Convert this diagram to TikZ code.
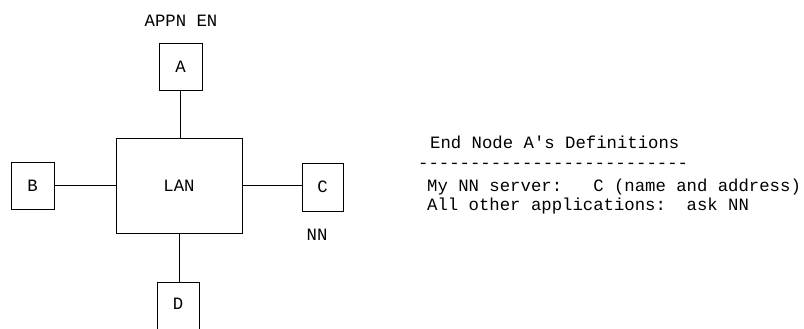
\documentclass[tikz,border=0pt]{standalone}
\usepackage{fontspec}
\setmonofont{Liberation Mono}
\begin{document}
\begin{tikzpicture}[x=1pt,y=-1pt,
  every node/.style={font=\ttfamily\fontsize{17.3}{20}\selectfont, inner sep=0pt},
  box/.style={draw, line width=0.8pt, minimum width=#1},
  conn/.style={line width=0.8pt},
  txt/.style={anchor=base west}]
\useasboundingbox (0,0) rectangle (804,329);
\clip (0,0) rectangle (804,329);
\node[box=43pt, minimum height=47pt] (A) at (180.5,66.5) {A};
\node (appn) at (181,21) {APPN EN};
\node[box=126pt, minimum height=95pt] (LAN) at (179,185.5) {LAN};
\node[box=43pt, minimum height=47pt] (B) at (32.5,185.5) {B};
\node[box=41pt, minimum height=48pt] (C) at (322.5,187) {C};
\node (nn) at (317,235) {NN};
\node[box=42pt, minimum height=54pt] (D) at (178,309) {};
\node (Dl) at (178,304) {D};
\draw[conn] (A.south) -- (A.south |- LAN.north);
\draw[conn] (B.east |- LAN.west) -- (LAN.west);
\draw[conn] (LAN.east) -- (C.west |- LAN.east);
\draw[conn] (LAN.south) -- (LAN.south |- D.north);
\node[txt] (t1) at (430,149) {End Node A's Definitions};
\node[txt] (t2) at (418,168) {-{}-{}-{}-{}-{}-{}-{}-{}-{}-{}-{}-{}-{}-{}-{}-{}-{}-{}-{}-{}-{}-{}-{}-{}-{}-{}};
\node[txt] (t3) at (427,191) {My NN server:\ \ \ C (name and address)};
\node[txt] (t4) at (427,210) {All other applications:\ \ ask NN};
\end{tikzpicture}
\end{document}
